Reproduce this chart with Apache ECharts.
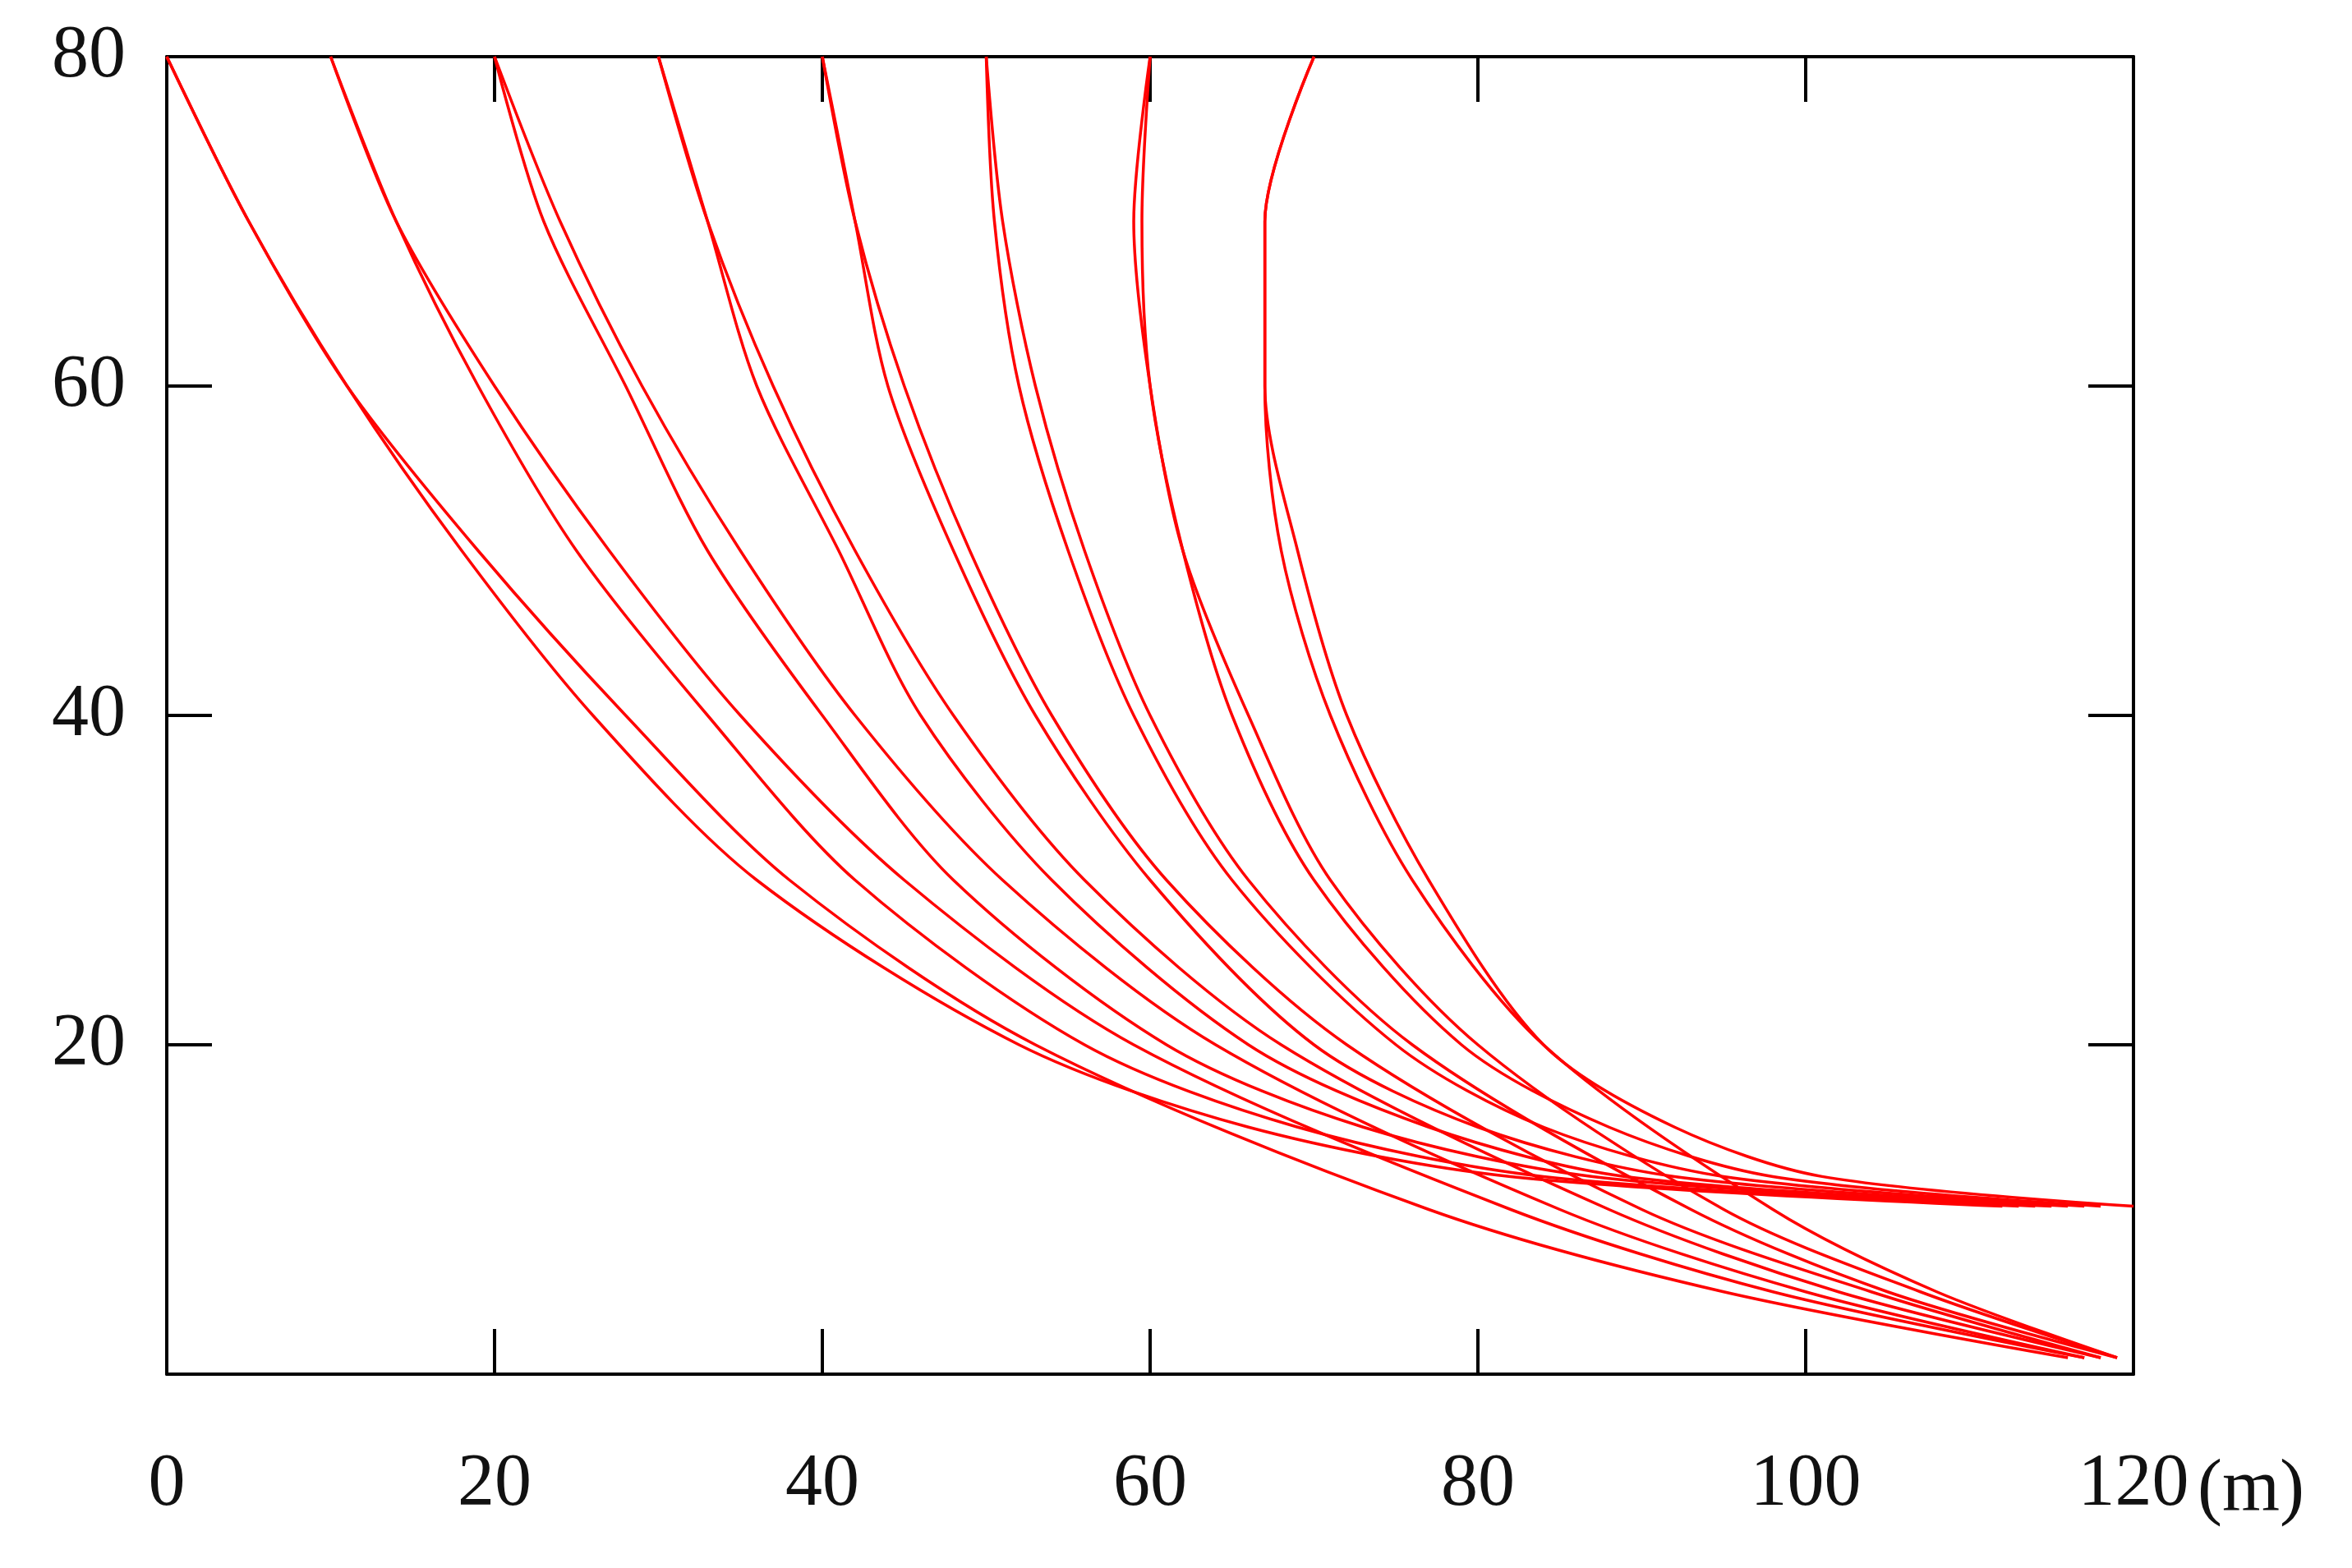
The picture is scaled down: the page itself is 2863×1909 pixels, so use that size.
<!DOCTYPE html>
<html><head><meta charset="utf-8">
<script src="https://cdn.jsdelivr.net/npm/echarts@6/dist/echarts.min.js"></script>
<style>html,body{margin:0;padding:0;background:#fff}#c{width:2863px;height:1909px}</style>
</head><body><div id="c"></div>
<script>
const xTicks = [0,20,40,60,80,100,120];
const yTicks = [20,40,60,80];
// lower bundle: x positions at these heights
const lowerY = [80,70,60,50,40,30,20,10,5,1];
const lowerX = [
 [0,5,11,19,28,38,53,77,95,116],
 [10,14,20,27,35,45,59,82,98,117],
 [20,24,29,35,42,51,64,85,100,117],
 [30,33,37,42,48,56,68,88,102,118],
 [40,42,45,49,54,61,72,90,104,118],
 [50,51,53,56,60,66,76,93,105,119],
 [60,59,60,62,66,71,80,95,107,119],
 [70,67,67,68,71,76,84,98,108,119]
];
// upper bundle
const upperY = [80,70,60,50,40,30,20,15,12,10.2];
const upperX = [
 [0,5,11,18,26,36,52,66,82,112],
 [10,14,19,25,33,42,56,69,84,113],
 [20,23,28,33,40,48,61,73,87,114],
 [30,33,36,41,46,54,66,77,89,115],
 [40,42,44,48,53,60,70,80,92,116],
 [50,50.5,52,55,59,65,75,84,95,117],
 [60,59.5,60,62,65,70,79,88,98,118],
 [70,67,67,69,72,77,84,92,101,120]
];
const series = [];
function add(xs, ys){
  series.push({type:'line',smooth:0.3,showSymbol:false,silent:true,
    lineStyle:{color:'#ff0000',width:3.5},data:xs.map((x,i)=>[x,ys[i]]),xAxisIndex:0,yAxisIndex:0});
}
lowerX.forEach(r=>add(r,lowerY));
upperX.forEach(r=>add(r,upperY));
const font = 'Liberation Serif';
const chart = echarts.init(document.getElementById('c'));
const axLine = {show:true,onZero:false,lineStyle:{color:'#000',width:4}};
const tick = {show:true,inside:true,length:55,lineStyle:{color:'#000',width:4}};
chart.setOption({
  backgroundColor:'#fff',
  animation:false,
  grid:{left:203,right:266,top:69,bottom:236},
  xAxis:[
   {type:'value',min:0,max:120,interval:20,axisLine:axLine,axisTick:tick,splitLine:{show:false},
    axisLabel:{fontFamily:font,fontSize:90,color:'#111',margin:90}},
   {type:'value',position:'top',min:0,max:120,interval:20,axisLine:axLine,axisTick:tick,splitLine:{show:false},axisLabel:{show:false}}
  ],
  yAxis:[
   {type:'value',min:0,max:80,interval:20,axisLine:axLine,axisTick:tick,splitLine:{show:false},
    axisLabel:{fontFamily:font,fontSize:90,color:'#111',margin:50,formatter:v=>v===0?'':v}},
   {type:'value',position:'right',min:0,max:80,interval:20,axisLine:axLine,axisTick:tick,splitLine:{show:false},axisLabel:{show:false}}
  ],
  graphic:[{type:'text',left:2675,top:1770,style:{text:'(m)',font:'90px "Liberation Serif"',fill:'#111'}}],
  series
});
</script></body></html>
